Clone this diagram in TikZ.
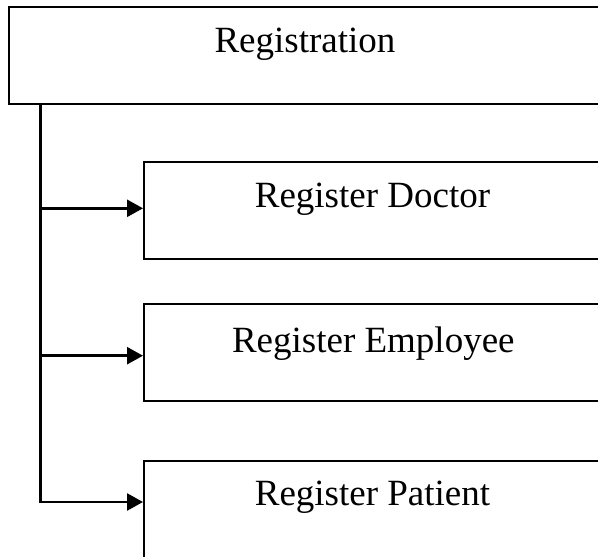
\documentclass[tikz,border=0pt]{standalone}
\usepackage{fontspec}
\setmainfont{Liberation Serif}
\usetikzlibrary{arrows.meta}
\begin{document}
\begin{tikzpicture}[x=1pt,y=-1pt,
  box/.style={draw=black,line width=2.3pt,rectangle,inner sep=0pt,anchor=north west},
  lbl/.style={anchor=base,inner sep=0pt,font=\fontsize{37}{40}\selectfont},
  link/.style={line width=2.5pt,-{Triangle[length=16pt,width=17pt]}},
  spine/.style={line width=2.5pt}]
  \useasboundingbox (0,0) rectangle (598,557);
  \begin{scope}
    \clip (0,0) rectangle (598,557);
    % parent box and the three child boxes (they run past the right edge)
    \node[box,minimum width=594pt,minimum height=97pt] (reg) at (8,6) {};
    \node[box,minimum width=460pt,minimum height=97pt] (doc) at (143,161) {};
    \node[box,minimum width=460pt,minimum height=97pt] (emp) at (143,303) {};
    \node[box,minimum width=460pt,minimum height=97pt] (pat) at (143,460) {};
  \end{scope}
  % labels
  \node[lbl] (regt) at (305,52) {Registration};
  \node[lbl] (doct) at (372.5,207) {Register Doctor};
  \node[lbl] (empt) at (373.3,352) {Register Employee};
  \node[lbl] (patt) at (372.5,505) {Register Patient};
  % branch points on the spine
  \coordinate (top) at (40.5,103.3);
  \coordinate (s1) at (40.5,208.3);
  \coordinate (s2) at (40.5,355.7);
  \coordinate (s3) at (40.5,502);
  \draw[spine] (top) -- (s3);
  \draw[link] ([xshift=-1.25pt]s1) -- (s1 -| doc.west);
  \draw[link] ([xshift=-1.25pt]s2) -- (s2 -| emp.west);
  \draw[link] ([xshift=-1.25pt]s3) -- (s3 -| pat.west);
\end{tikzpicture}
\end{document}
